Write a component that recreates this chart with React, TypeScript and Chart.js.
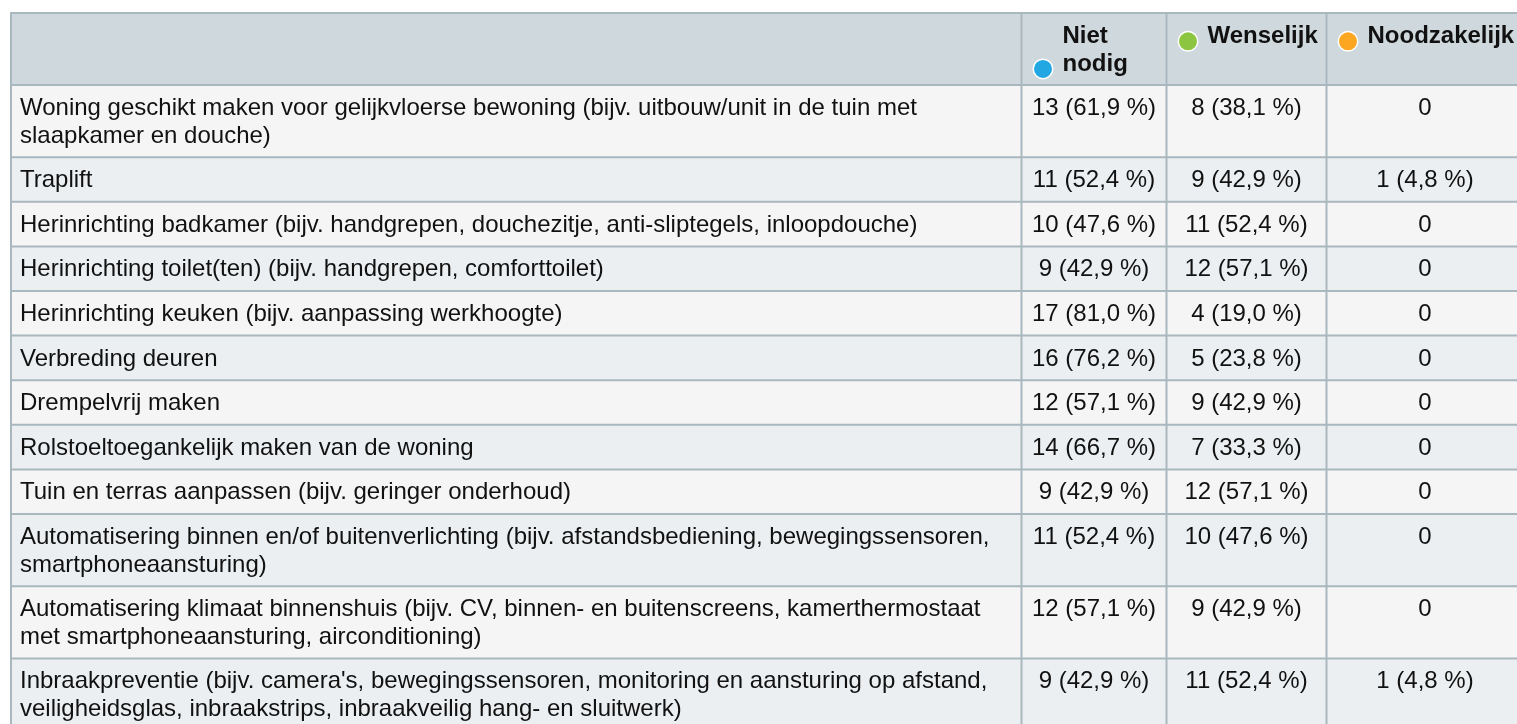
import React, { useEffect, useRef } from 'react';
import { Chart, registerables } from 'chart.js';

Chart.register(...registerables);

// ---- data ----
const items: string[] = [
  'Woning geschikt maken voor gelijkvloerse bewoning (bijv. uitbouw/unit in de tuin met slaapkamer en douche)',
  'Traplift',
  'Herinrichting badkamer (bijv. handgrepen, douchezitje, anti-sliptegels, inloopdouche)',
  'Herinrichting toilet(ten) (bijv. handgrepen, comforttoilet)',
  'Herinrichting keuken (bijv. aanpassing werkhoogte)',
  'Verbreding deuren',
  'Drempelvrij maken',
  'Rolstoeltoegankelijk maken van de woning',
  'Tuin en terras aanpassen (bijv. geringer onderhoud)',
  'Automatisering binnen en/of buitenverlichting (bijv. afstandsbediening, bewegingssensoren, smartphoneaansturing)',
  'Automatisering klimaat binnenshuis (bijv. CV, binnen- en buitenscreens, kamerthermostaat met smartphoneaansturing, airconditioning)',
  "Inbraakpreventie (bijv. camera's, bewegingssensoren, monitoring en aansturing op afstand, veiligheidsglas, inbraakstrips, inbraakveilig hang- en sluitwerk)",
];
const nietNodig: number[] = [13, 11, 10, 9, 17, 16, 12, 14, 9, 11, 12, 9];
const wenselijk: number[] = [8, 9, 11, 12, 4, 5, 9, 7, 12, 10, 9, 11];
const noodzakelijk: number[] = [0, 1, 0, 0, 0, 0, 0, 0, 0, 0, 0, 1];
const respondents = 21;
const seriesNames: string[] = ['Niet nodig', 'Wenselijk', 'Noodzakelijk'];
const seriesColors: string[] = ['#22a7e3', '#8cc540', '#fca622'];

// ---- layout / style ----
const W = 1517;
const H = 724;
const TABLE_LEFT = 10;
const TABLE_TOP = 12;
const COL_WIDTHS = [1011.5, 145, 160, 197];
const HEADER_H = 73;
const LINE_H = 27.6;
const PAD_V = 8.5;
const PAD_H = 10;
const FONT = '24px "Liberation Sans", Arial, sans-serif';
const BOLD = 'bold 24px "Liberation Sans", Arial, sans-serif';
const HEADER_BG = '#cfd8dc';
const ROW_BG = ['#f5f5f5', '#eceff1'];
const BORDER = '#a9b7be';
const TEXT = '#111111';

function fmt(v: number): string {
  if (v === 0) return '0';
  return `${v} (${((v / respondents) * 100).toFixed(1).replace('.', ',')} %)`;
}

function wrap(ctx: CanvasRenderingContext2D, text: string, maxW: number): string[] {
  const words = text.split(' ');
  const lines: string[] = [];
  let cur = '';
  for (const w of words) {
    const t = cur ? cur + ' ' + w : w;
    if (cur && ctx.measureText(t).width > maxW) {
      lines.push(cur);
      cur = w;
    } else cur = t;
  }
  if (cur) lines.push(cur);
  return lines;
}

const tablePlugin = {
  id: 'tablePlugin',
  afterDraw(chart: any) {
    const ctx: CanvasRenderingContext2D = chart.ctx;
    const xs = chart.scales.x;
    const ys = chart.scales.y;
    const px = (v: number) => xs.getPixelForValue(v);
    const py = (v: number) => ys.getPixelForValue(v);

    const edges: number[] = [TABLE_LEFT];
    COL_WIDTHS.forEach((w) => edges.push(edges[edges.length - 1] + w));

    ctx.save();
    ctx.font = FONT;
    const labelW = COL_WIDTHS[0] - PAD_H * 2;
    const wrapped = items.map((t) => wrap(ctx, t, labelW));
    const rowEdges: number[] = [TABLE_TOP, TABLE_TOP + HEADER_H];
    wrapped.forEach((lines) => {
      rowEdges.push(rowEdges[rowEdges.length - 1] + PAD_V * 2 + lines.length * LINE_H);
    });

    // backgrounds
    ctx.fillStyle = HEADER_BG;
    ctx.fillRect(px(edges[0]), py(rowEdges[0]), px(edges[edges.length - 1]) - px(edges[0]), py(rowEdges[1]) - py(rowEdges[0]));
    for (let r = 0; r < items.length; r++) {
      ctx.fillStyle = ROW_BG[r % 2];
      ctx.fillRect(px(edges[0]), py(rowEdges[r + 1]), px(edges[edges.length - 1]) - px(edges[0]), py(rowEdges[r + 2]) - py(rowEdges[r + 1]));
    }

    // borders
    ctx.strokeStyle = BORDER;
    ctx.lineWidth = 2;
    const bottom = rowEdges[rowEdges.length - 1];
    ctx.beginPath();
    ctx.moveTo(px(edges[0] + 1), py(rowEdges[0]));
    ctx.lineTo(px(edges[0] + 1), py(bottom));
    for (let c = 1; c < edges.length; c++) {
      ctx.moveTo(px(edges[c]), py(rowEdges[0]));
      ctx.lineTo(px(edges[c]), py(bottom));
    }
    ctx.moveTo(px(edges[0]), py(rowEdges[0] + 1));
    ctx.lineTo(px(edges[edges.length - 1]), py(rowEdges[0] + 1));
    for (let r = 1; r < rowEdges.length; r++) {
      ctx.moveTo(px(edges[0]), py(rowEdges[r]));
      ctx.lineTo(px(edges[edges.length - 1]), py(rowEdges[r]));
    }
    ctx.stroke();

    // header
    ctx.font = BOLD;
    ctx.fillStyle = TEXT;
    ctx.textBaseline = 'middle';
    ctx.textAlign = 'left';
    const dotD = 21;
    const textOff = 41;
    for (let s = 0; s < seriesNames.length; s++) {
      const c0 = edges[s + 1];
      const availW = 145 - textOff - PAD_H;
      const lines = wrap(ctx, seriesNames[s], availW);
      const y0 = rowEdges[0] + PAD_V + 2 + LINE_H / 2;
      ctx.fillStyle = TEXT;
      lines.forEach((ln, i) => {
        ctx.fillText(ln, px(c0 + textOff), py(y0 + i * LINE_H));
      });
      const dy = y0 + (lines.length - 1) * LINE_H + 5;
      ctx.beginPath();
      ctx.arc(px(c0 + 11 + dotD / 2), py(dy), dotD / 2 - 0.75, 0, Math.PI * 2);
      ctx.fillStyle = seriesColors[s];
      ctx.fill();
      ctx.lineWidth = 1.5;
      ctx.strokeStyle = '#ffffff';
      ctx.stroke();
    }

    // body
    ctx.font = FONT;
    ctx.fillStyle = TEXT;
    const series = [nietNodig, wenselijk, noodzakelijk];
    for (let r = 0; r < items.length; r++) {
      const top = rowEdges[r + 1];
      const y0 = top + PAD_V + LINE_H / 2 + 1;
      ctx.textAlign = 'left';
      wrapped[r].forEach((ln, i) => {
        ctx.fillText(ln, px(edges[0] + PAD_H), py(y0 + i * LINE_H));
      });
      ctx.textAlign = 'center';
      for (let s = 0; s < series.length; s++) {
        const cx = (edges[s + 1] + edges[s + 2]) / 2;
        ctx.fillText(fmt(series[s][r]), px(cx), py(y0));
      }
    }
    ctx.restore();
  },
};

export default function App() {
  const ref = useRef<HTMLCanvasElement | null>(null);
  useEffect(() => {
    if (!ref.current) return;
    const chart = new Chart(ref.current, {
      type: 'scatter',
      data: { datasets: [] },
      options: {
        animation: false,
        responsive: false,
        devicePixelRatio: 1,
        layout: { padding: 0 },
        plugins: { legend: { display: false }, tooltip: { enabled: false } },
        scales: {
          x: { type: 'linear', min: 0, max: W, display: false },
          y: { type: 'linear', min: 0, max: H, reverse: true, display: false },
        },
      },
      plugins: [tablePlugin],
    });
    return () => chart.destroy();
  }, []);
  return (
    <div style={{ position: 'fixed', left: 0, top: 0, width: W, height: H, background: '#ffffff' }}>
      <canvas ref={ref} width={W} height={H} style={{ display: 'block' }} />
    </div>
  );
}
